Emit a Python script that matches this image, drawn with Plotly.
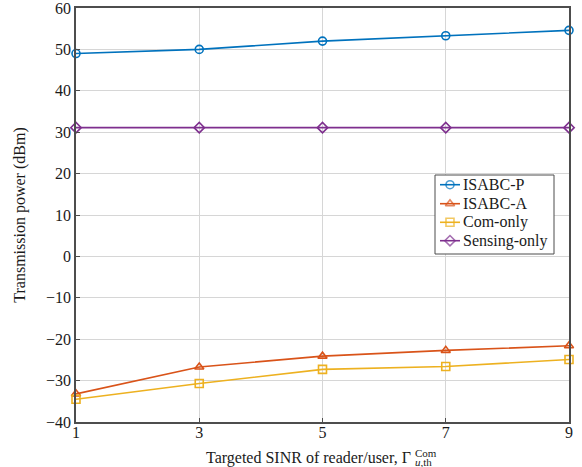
import plotly.graph_objects as go

x_vals = [1, 3, 5, 7, 9]
isabc_p = [49.0, 50.0, 52.0, 53.3, 54.6]
isabc_a = [-33.2, -26.7, -24.1, -22.7, -21.6]
com_only = [-34.5, -30.7, -27.3, -26.6, -24.9]
sensing_only = [31.1, 31.1, 31.1, 31.1, 31.1]
y_ticks = [-40, -30, -20, -10, 0, 10, 20, 30, 40, 50, 60]

series = [
    ("ISABC-P", isabc_p, "#0072BD", "circle-open"),
    ("ISABC-A", isabc_a, "#D95319", "triangle-up-open"),
    ("Com-only", com_only, "#EDB120", "square-open"),
    ("Sensing-only", sensing_only, "#7E2F8E", "diamond-open"),
]

font_fam = "Liberation Serif, Times New Roman, serif"
txt_col = "#1a1a1a"
FS = 16
X_RANGE = [1, 9]
Y_RANGE = [-40, 60]

fig = go.Figure()
for name, vals, col, sym in series:
    fig.add_trace(go.Scatter(
        x=x_vals, y=vals, name=name, mode="lines+markers", showlegend=False,
        line=dict(color=col, width=1.6),
        marker=dict(symbol=sym, size=8, color=col, line=dict(width=1.6, color=col)),
        cliponaxis=False,
    ))

# ---- manual legend (glyphs on an invisible overlay axis spanning the plot area) ----
L_X0, L_X1 = 0.7282, 0.9696
L_Y0, L_Y1 = 0.4058, 0.5966
row_y = [0.5732, 0.5273, 0.4824, 0.4379]
seg_x = [0.7383, 0.7586, 0.7789]
text_x = 0.7800


def px_to_x(p):
    return X_RANGE[0] + p * (X_RANGE[1] - X_RANGE[0])


def py_to_y(p):
    return Y_RANGE[0] + p * (Y_RANGE[1] - Y_RANGE[0])


fig.add_shape(type="rect", xref="x", yref="y",
              x0=px_to_x(L_X0), x1=px_to_x(L_X1), y0=py_to_y(L_Y0), y1=py_to_y(L_Y1),
              line=dict(color="#4d4d4d", width=1), fillcolor="white", layer="between")
for (name, vals, col, sym), ry in zip(series, row_y):
    fig.add_trace(go.Scatter(
        x=seg_x, y=[ry, ry, ry], xaxis="x2", yaxis="y2", mode="lines+markers",
        showlegend=False, hoverinfo="skip",
        line=dict(color=col, width=1.6),
        marker=dict(symbol=sym, size=[0, 8, 0], color=col, line=dict(width=1.6, color=col)),
        cliponaxis=False,
    ))
    fig.add_annotation(xref="paper", yref="paper", x=text_x, y=ry,
                       xanchor="left", yanchor="middle", text=name, showarrow=False,
                       font=dict(family=font_fam, size=FS, color=txt_col))

axis_common = dict(
    showgrid=True, gridcolor="#d6d6d6", gridwidth=1,
    showline=True, linecolor="#4d4d4d", linewidth=1.5, mirror=True,
    ticks="inside", ticklen=4, tickcolor="#4d4d4d",
    zeroline=False, automargin=False, ticklabeloverflow="allow",
    tickfont=dict(family=font_fam, size=FS, color=txt_col),
)

fig.update_xaxes(range=X_RANGE, tickvals=x_vals, ticklabelstandoff=-5, **axis_common)
fig.update_yaxes(range=Y_RANGE, tickvals=y_ticks,
                 title=dict(text="Transmission power (dBm)",
                            font=dict(family=font_fam, size=FS, color=txt_col), standoff=16),
                 **axis_common)

fig.update_layout(
    xaxis2=dict(overlaying="x", range=[0, 1], visible=False, fixedrange=True),
    yaxis2=dict(overlaying="y", range=[0, 1], visible=False, fixedrange=True),
)

gx = (413 - 76) / 493
fig.add_annotation(
    xref="paper", yref="paper", x=gx, y=0, yshift=-25, xanchor="right", yanchor="top",
    text="Targeted SINR of reader/user, Γ", showarrow=False,
    font=dict(family=font_fam, size=FS, color=txt_col),
)
fig.add_annotation(
    xref="paper", yref="paper", x=gx, y=0, yshift=-23, xanchor="left", yanchor="top",
    text="Com", showarrow=False,
    font=dict(family=font_fam, size=11, color=txt_col),
)
fig.add_annotation(
    xref="paper", yref="paper", x=gx, y=0, yshift=-32, xanchor="left", yanchor="top",
    text="<i>u</i>,th", showarrow=False,
    font=dict(family=font_fam, size=11, color=txt_col),
)

fig.update_layout(
    width=582, height=467,
    margin=dict(l=76, r=13, t=8, b=45),
    plot_bgcolor="white", paper_bgcolor="white",
    font=dict(family=font_fam, size=FS, color=txt_col),
    showlegend=False,
)

fig.write_html("out.html",
               config={"displayModeBar": False},
               post_script="document.body.style.margin='0';document.body.style.padding='0';")
